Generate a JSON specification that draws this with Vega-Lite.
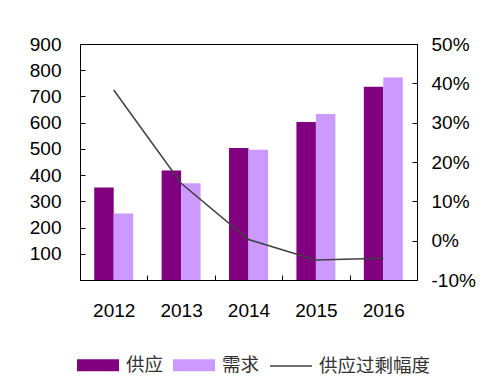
{
  "$schema": "https://vega.github.io/schema/vega-lite/v6.json",
  "width": 337,
  "height": 236,
  "autosize": "none",
  "padding": {"left": 80, "top": 44, "right": 78, "bottom": 112},
  "background": "#ffffff",
  "config": {
    "view": {"stroke": "#000000", "strokeWidth": 1},
    "axis": {
      "domainColor": "#000000",
      "tickColor": "#000000",
      "labelFont": "Liberation Sans",
      "labelFontSize": 19,
      "labelColor": "#000000",
      "grid": false,
      "title": null
    }
  },
  "datasets": {
    "bars": [
      {"year": "2012", "type": "供应", "value": 353},
      {"year": "2012", "type": "需求", "value": 254},
      {"year": "2013", "type": "供应", "value": 418},
      {"year": "2013", "type": "需求", "value": 369},
      {"year": "2014", "type": "供应", "value": 503},
      {"year": "2014", "type": "需求", "value": 497},
      {"year": "2015", "type": "供应", "value": 603},
      {"year": "2015", "type": "需求", "value": 633},
      {"year": "2016", "type": "供应", "value": 737},
      {"year": "2016", "type": "需求", "value": 772}
    ],
    "line": [
      {"year": "2012", "series": "供应过剩幅度", "rate": 0.383},
      {"year": "2013", "series": "供应过剩幅度", "rate": 0.146},
      {"year": "2014", "series": "供应过剩幅度", "rate": 0.003},
      {"year": "2015", "series": "供应过剩幅度", "rate": -0.049},
      {"year": "2016", "series": "供应过剩幅度", "rate": -0.045}
    ]
  },
  "layer": [
    {
      "data": {"name": "bars"},
      "mark": {"type": "bar"},
      "encoding": {
        "x": {
          "field": "year",
          "type": "nominal",
          "title": null,
          "scale": {"paddingInner": 0, "paddingOuter": 0},
          "axis": {"labelAngle": 0, "tickBand": "extent", "tickSize": -5, "labelPadding": 26}
        },
        "xOffset": {
          "field": "type",
          "scale": {"domain": ["供应", "需求"], "paddingInner": 0, "paddingOuter": 0.73}
        },
        "y": {
          "field": "value",
          "type": "quantitative",
          "title": null,
          "scale": {"domain": [0, 900], "nice": false},
          "axis": {"values": [100, 200, 300, 400, 500, 600, 700, 800, 900], "tickSize": -5, "labelPadding": 24}
        },
        "fill": {
          "field": "type",
          "type": "nominal",
          "scale": {"domain": ["供应", "需求"], "range": ["#800080", "#CC99FF"]},
          "legend": {
            "title": null,
            "orient": "none",
            "legendX": -3,
            "legendY": 300,
            "direction": "horizontal",
            "symbolType": "M-1,-0.29H1V0.29H-1Z",
            "symbolSize": 1764,
            "symbolStrokeWidth": 0,
            "labelFont": "Noto Sans CJK SC",
            "labelFontSize": 18.5,
            "labelColor": "#333333",
            "labelOffset": 7,
            "columnPadding": 9
          }
        }
      }
    },
    {
      "data": {"name": "line"},
      "mark": {"type": "line", "strokeWidth": 1.5},
      "encoding": {
        "x": {"field": "year", "type": "nominal"},
        "y": {
          "field": "rate",
          "type": "quantitative",
          "title": null,
          "scale": {"domain": [-0.1, 0.5], "nice": false},
          "axis": {
            "orient": "right",
            "format": ".0%",
            "labelExpr": "replace(datum.label, '−', '-')",
            "values": [-0.1, 0, 0.1, 0.2, 0.3, 0.4, 0.5],
            "tickSize": -5,
            "labelPadding": 19
          }
        },
        "stroke": {
          "field": "series",
          "type": "nominal",
          "scale": {"domain": ["供应过剩幅度"], "range": ["#404040"]},
          "legend": {
            "title": null,
            "orient": "none",
            "legendX": 189,
            "legendY": 300,
            "symbolType": "M-1,0H1",
            "symbolSize": 1764,
            "symbolStrokeWidth": 1.5,
            "labelFont": "Noto Sans CJK SC",
            "labelFontSize": 18.5,
            "labelColor": "#333333",
            "labelOffset": 6
          }
        }
      }
    }
  ],
  "resolve": {"scale": {"y": "independent"}}
}
